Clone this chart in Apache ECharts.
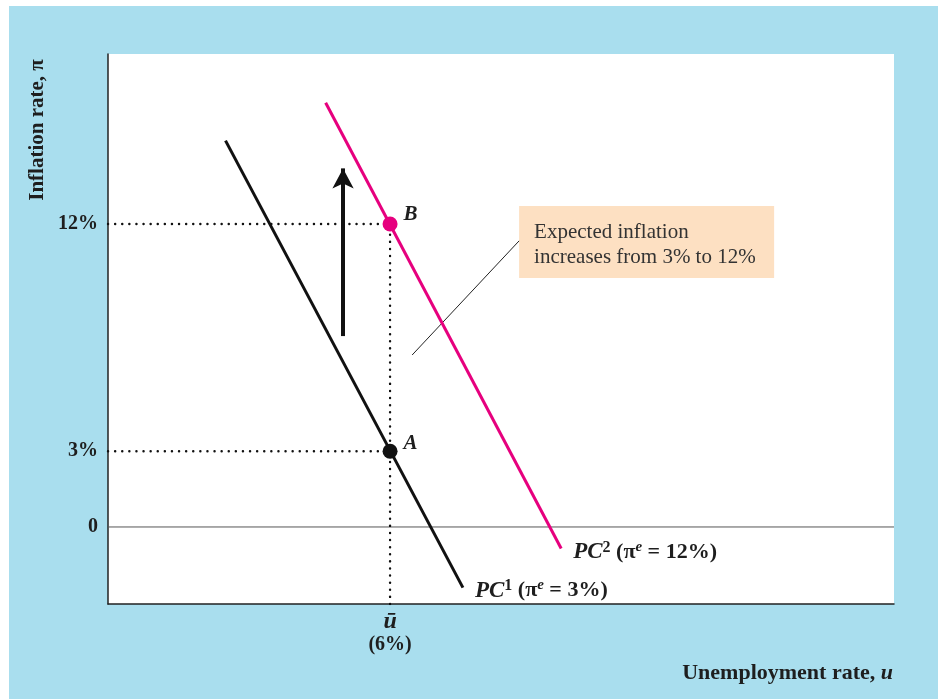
<!DOCTYPE html>
<html lang="en">
<head>
<meta charset="UTF-8" />
<title>Phillips curve shift</title>
<script src="https://cdn.jsdelivr.net/npm/echarts@6.0.0/dist/echarts.min.js"></script>
<style>
  html, body { margin: 0; padding: 0; background: #fff; }
  #wrap { position: relative; width: 938px; height: 699px; overflow: hidden; }
  #bg { position: absolute; left: 9px; top: 6px; right: 0; bottom: 0; background: #a9deee; }
  #main { position: absolute; left: 0; top: 0; width: 938px; height: 699px; }
</style>
</head>
<body>
<div id="wrap">
  <div id="bg"></div>
  <div id="main"></div>
</div>
<script type="text/javascript">
// data (u in %, pi in %)
var uMin = 0, uMax = 16.72;
var piMin = -3.05, piMax = 18.73;
var uBar = 6;
var piTicks = [0, 3, 12];
var pc1 = [[2.5, 15.3], [7.55, -2.4]];
var pc2 = [[4.63, 16.8], [9.64, -0.85]];
var pointA = [6, 3];
var pointB = [6, 12];
var shiftArrow = [[5.0, 7.56], [5.0, 14.2]];
var leader = [[6.47, 6.81], [8.745, 11.33]];
var calloutBox = [[8.745, 12.71], [14.17, 9.86]];

var serif = "'Liberation Serif', 'DejaVu Serif', serif";
var magenta = '#e6007e';
var ink = '#1e1e1e';

var myChart = echarts.init(document.getElementById('main'));

function dotted(data) {
  return {
    type: 'line', data: data, symbol: 'none', silent: true, z: 2,
    lineStyle: { color: '#111', width: 2.4, type: [0.1, 7], cap: 'round' }
  };
}

// rich styles for PC labels
var pcRich = {
  pc: { fontFamily: serif, fontSize: 23, fontWeight: 'bold', fontStyle: 'italic', color: ink, lineHeight: 26 },
  s: { fontFamily: serif, fontSize: 16, fontWeight: 'bold', color: ink, verticalAlign: 'top', lineHeight: 26 },
  t: { fontFamily: serif, fontSize: 22, fontWeight: 'bold', color: ink, lineHeight: 26 },
  e: { fontFamily: serif, fontSize: 15, fontWeight: 'bold', fontStyle: 'italic', color: ink, verticalAlign: 'top', lineHeight: 26 }
};

var option = {
  backgroundColor: 'transparent',
  animation: false,
  grid: {
    left: 108, top: 54, width: 786, height: 550,
    show: true, backgroundColor: '#fff', borderWidth: 0
  },
  xAxis: {
    type: 'value', min: uMin, max: uMax,
    axisLine: { onZero: false, lineStyle: { color: '#222', width: 1.5 } },
    axisTick: { show: false },
    splitLine: { show: false },
    axisLabel: {
      customValues: [uBar],
      margin: 6,
      formatter: function () { return '{u|ū}\n{p|(6%)}'; },
      rich: {
        u: { fontFamily: serif, fontSize: 24, fontWeight: 'bold', fontStyle: 'italic', color: ink, lineHeight: 23 },
        p: { fontFamily: serif, fontSize: 20, fontWeight: 'bold', color: ink, lineHeight: 23 }
      }
    }
  },
  yAxis: {
    type: 'value', min: piMin, max: piMax,
    axisLine: { show: true, lineStyle: { color: '#222', width: 1.5 } },
    axisTick: { show: false },
    splitLine: { show: false },
    axisLabel: {
      customValues: piTicks,
      margin: 10,
      fontFamily: serif, fontSize: 20, fontWeight: 'bold', color: ink,
      formatter: function (v) { return v === 0 ? '0' : v + '%'; }
    }
  },
  graphic: [
    {
      type: 'text', x: 38, y: 130, rotation: Math.PI / 2,
      style: {
        text: 'Inflation rate, π', fontFamily: serif, fontSize: 21, fontWeight: 'bold',
        fill: ink, align: 'center', verticalAlign: 'middle'
      }
    },
    {
      type: 'text', x: 893, y: 673,
      style: {
        text: '{n|Unemployment rate, }{i|u}',
        align: 'right', verticalAlign: 'middle',
        rich: {
          n: { fontFamily: serif, fontSize: 22, fontWeight: 'bold', fill: ink },
          i: { fontFamily: serif, fontSize: 22, fontWeight: 'bold', fontStyle: 'italic', fill: ink }
        }
      }
    }
  ],
  series: [
    {
      type: 'line', data: [[uMin, 0], [uMax, 0]], symbol: 'none', silent: true, z: 1,
      lineStyle: { color: '#555', width: 1 }
    },
    dotted([[uMin, pointB[1]], pointB]),
    dotted([[uMin, pointA[1]], pointA]),
    dotted([[uBar, piMin], pointB]),
    {
      // leader line, callout box and shift arrow
      type: 'line', data: leader, symbol: 'none', silent: true, z: 3,
      lineStyle: { color: '#222', width: 1 },
      markArea: {
        silent: true,
        itemStyle: { color: '#fde0c2' },
        label: {
          show: true, position: [15, 14],
          fontFamily: serif, fontSize: 21, color: '#333', lineHeight: 25,
          formatter: 'Expected inflation\nincreases from 3% to 12%'
        },
        data: [[{ coord: calloutBox[0] }, { coord: calloutBox[1] }]]
      },
      markLine: {
        silent: true, symbol: ['none', 'arrow'], symbolSize: [16, 20],
        label: { show: false },
        lineStyle: { color: '#111', width: 4, type: 'solid' },
        data: [[{ coord: shiftArrow[0] }, { coord: shiftArrow[1] }]]
      }
    },
    {
      type: 'line', symbol: 'none', z: 4, data: pc1,
      lineStyle: { color: '#111', width: 3 },
      endLabel: {
        show: true, distance: 12, offset: [0, 3],
        formatter: '{pc|PC}{s|1}{t| (π}{e|e}{t| = 3%)}',
        rich: pcRich
      }
    },
    {
      type: 'line', symbol: 'none', z: 4, data: pc2,
      lineStyle: { color: magenta, width: 3 },
      endLabel: {
        show: true, distance: 12, offset: [0, 4],
        formatter: '{pc|PC}{s|2}{t| (π}{e|e}{t| = 12%)}',
        rich: pcRich
      }
    },
    {
      type: 'scatter', symbolSize: 15, z: 5,
      itemStyle: { opacity: 1 },
      label: {
        show: true, position: 'right', distance: 6,
        fontFamily: serif, fontSize: 21, fontWeight: 'bold', fontStyle: 'italic', color: ink,
        formatter: function (p) { return p.data.name; }
      },
      data: [
        { name: 'A', value: pointA, itemStyle: { color: '#111', opacity: 1 }, label: { offset: [0, -8] } },
        { name: 'B', value: pointB, itemStyle: { color: magenta, opacity: 1 }, label: { offset: [0, -9] } }
      ]
    }
  ]
};

myChart.setOption(option);
</script>
</body>
</html>
